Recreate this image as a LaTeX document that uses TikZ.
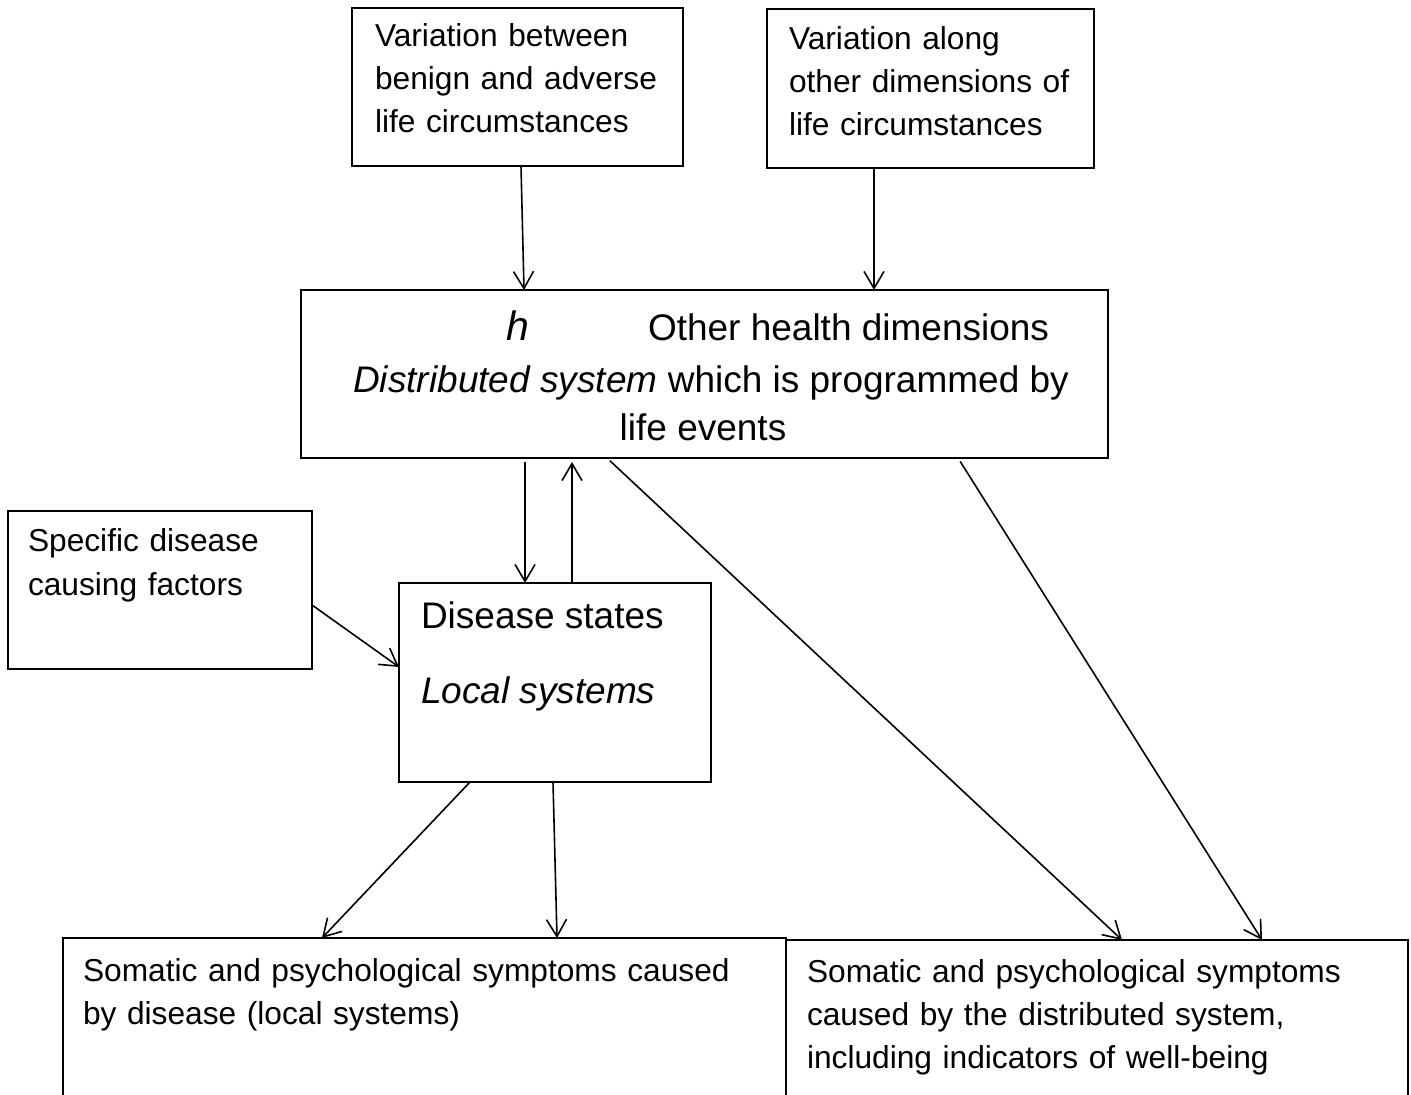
\documentclass[tikz,border=0pt]{standalone}
\usepackage{fontspec}
\setmainfont{Liberation Sans}
\usetikzlibrary{arrows.meta}
\tikzset{
  box/.style={draw, line width=0.9pt, inner sep=0pt, outer sep=0pt, anchor=north west},
  txt/.style={inner sep=0pt, outer sep=0pt, anchor=base west, align=left, font=\fontsize{15.85}{21.5}\selectfont},
  bigtxt/.style={inner sep=0pt, outer sep=0pt, anchor=base west, font=\fontsize{18.5}{25}\selectfont},
  arr/.style={line width=0.8pt, -{Straight Barb[length=8.5pt,width=10pt,line width=0.8pt]}}
}
\begin{document}
\begin{tikzpicture}[x=0.5pt,y=-0.5pt]
\useasboundingbox (0,0) rectangle (1411,1095);
\clip (0,0) rectangle (1411,1095);
\fill[white] (0,0) rectangle (1411,1095);
% boxes
\node[box, minimum width=165.5pt, minimum height=79pt] (A) at (352,8) {};
\node[box, minimum width=163.5pt, minimum height=79.5pt] (B) at (767,9) {};
\node[box, minimum width=403.5pt, minimum height=84pt] (C) at (301,290) {};
\node[box, minimum width=152pt, minimum height=79pt] (D) at (8,511) {};
\node[box, minimum width=156pt, minimum height=99.5pt] (E) at (399,583) {};
\node[box, minimum width=361.5pt, minimum height=91pt] (F) at (63,938) {};
\node[box, minimum width=311pt, minimum height=90pt] (G) at (786,940) {};
% texts
\node[txt, text width=160pt] (tA) at (375,47) {Variation between\\benign and adverse\\life circumstances};
\node[txt, text width=150pt] (tB) at (789,50) {Variation along\\other dimensions of\\life circumstances};
\node[txt, text width=140pt] (tD) at (28,552) {Specific disease\\causing factors};
\node[bigtxt] (tE1) at (421,628) {Disease states};
\node[bigtxt] (tE2) at (421,703) {\itshape Local systems};
\node[bigtxt, font=\fontsize{20.5}{25}\selectfont] (th) at (506,341) {\itshape h};
\node[bigtxt] (tC1) at (648,341) {Other health dimensions};
\node[bigtxt, anchor=base] (tC2) at (711,393) {\textit{Distributed system} which is programmed by};
\node[bigtxt, anchor=base] (tC3) at (703,441) {life events};
\node[txt, text width=355pt] (tF) at (83,981) {Somatic and psychological symptoms caused\\by disease (local systems)};
\node[txt, text width=300pt] (tG) at (807,982) {Somatic and psychological symptoms\\caused by the distributed system,\\including indicators of well-being};
% arrows
\draw[arr] ([xshift=1.75pt]A.south) -- ([xshift=-90.25pt]C.north);
\draw[arr] ([xshift=-28.25pt]B.south) -- ([xshift=84.75pt]C.north);
\draw[arr, shorten <=2pt] ([xshift=-89.75pt]C.south) -- ([xshift=-15pt]E.north);
\draw[arr, shorten >=2pt] ([xshift=8.5pt]E.north) -- ([xshift=-66.25pt]C.south);
\draw[arr] ([yshift=-7.5pt]D.east) -- ([yshift=7.75pt]E.west);
\draw[arr, shorten <=2pt] ([xshift=-48.75pt]C.south) -- ([xshift=12.5pt]G.north);
\draw[arr, shorten <=2pt] ([xshift=126.75pt]C.south) -- ([xshift=82.5pt]G.north);
\draw[arr] ([xshift=-42.5pt]E.south) -- ([xshift=-51.25pt]F.north);
\draw[arr] ([xshift=-1pt]E.south) -- ([xshift=66.25pt]F.north);
\end{tikzpicture}
\end{document}
